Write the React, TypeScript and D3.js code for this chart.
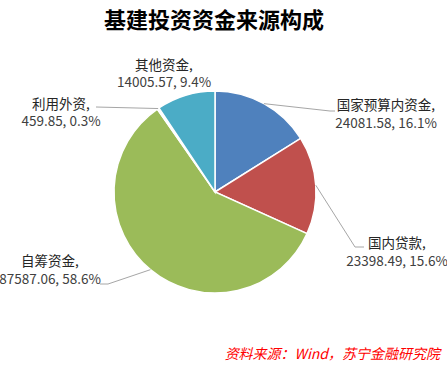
import React, { useEffect, useRef } from 'react';
import * as d3 from 'd3';

const categories = ['国家预算内资金', '国内贷款', '自筹资金', '利用外资', '其他资金'];
const values = [24081.58, 23398.49, 87587.06, 459.85, 14005.57];
const valueLabels = ['24081.58', '23398.49', '87587.06', '459.85', '14005.57'];
const percentLabels = ['16.1%', '15.6%', '58.6%', '0.3%', '9.4%'];
const colors = ['#4F81BD', '#C0504D', '#9BBB59', '#FFFFFF', '#4BACC6'];

// label placement (layout only)
const labelPos = [
  { x: 386, y1: 110, y2: 128, leader: [[330, 111], [335, 111]] },
  { x: 397, y1: 248, y2: 266, leader: [[355, 247], [364, 247]] },
  { x: 50, y1: 266, y2: 284, leader: [[108, 284], [100, 284]] },
  { x: 61, y1: 109, y2: 126, leader: [[96, 107]] },
  { x: 164, y1: 70, y2: 87, leader: [] },
];

const App = () => {
  const ref = useRef<SVGSVGElement>(null);

  useEffect(() => {
    const width = 447;
    const height = 366;
    const cx = 215;
    const cy = 192;
    const r = 101;
    const font = '"Noto Sans CJK SC", "Noto Sans", sans-serif';

    const svg = d3.select(ref.current).attr('width', width).attr('height', height);
    svg.selectAll('*').remove();

    svg.append('rect').attr('width', width).attr('height', height).attr('fill', '#fff');

    svg.append('text')
      .attr('x', 214)
      .attr('y', 28)
      .attr('text-anchor', 'middle')
      .style('font-family', font)
      .style('font-size', '22px')
      .style('font-weight', 'bold')
      .attr('fill', '#000')
      .text('基建投资资金来源构成');

    const pie = d3.pie<number>().sort(null).value(d => d);
    const arcs = pie(values);
    const arc = d3.arc<d3.PieArcDatum<number>>().innerRadius(0).outerRadius(r);

    const g = svg.append('g').attr('transform', `translate(${cx},${cy})`);
    g.selectAll('path.slice')
      .data(arcs)
      .enter()
      .append('path')
      .attr('class', 'slice')
      .attr('d', arc)
      .attr('fill', (d, i) => colors[i])
      .attr('stroke', '#fff')
      .attr('stroke-width', 1.5);

    // leader lines
    arcs.forEach((a, i) => {
      const lp = labelPos[i];
      if (lp.leader.length === 0) return;
      const mid = (a.startAngle + a.endAngle) / 2;
      const start: [number, number] = [cx + Math.sin(mid) * r, cy - Math.cos(mid) * r];
      const pts = [start, ...lp.leader] as [number, number][];
      svg.append('path')
        .attr('d', d3.line()(pts))
        .attr('fill', 'none')
        .attr('stroke', '#A6A6A6')
        .attr('stroke-width', 1);
    });

    // labels
    categories.forEach((c, i) => {
      const lp = labelPos[i];
      const t = svg.append('text')
        .attr('text-anchor', 'middle')
        .style('font-family', font)
        .style('font-size', '13.5px');
      t.append('tspan').attr('x', lp.x).attr('y', lp.y1).attr('fill', '#262626').text(`${c},`);
      t.append('tspan').attr('x', lp.x).attr('y', lp.y2).attr('fill', '#404040')
        .text(`${valueLabels[i]}, ${percentLabels[i]}`);
    });

    svg.append('text')
      .attr('x', 440)
      .attr('y', 359)
      .attr('text-anchor', 'end')
      .style('font-family', font)
      .style('font-size', '14px')
      .style('font-style', 'italic')
      .attr('fill', '#FF0000')
      .text('资料来源：Wind，苏宁金融研究院');
  }, []);

  return <svg ref={ref} style={{ position: 'absolute', left: 0, top: 0 }}></svg>;
};

export default App;
